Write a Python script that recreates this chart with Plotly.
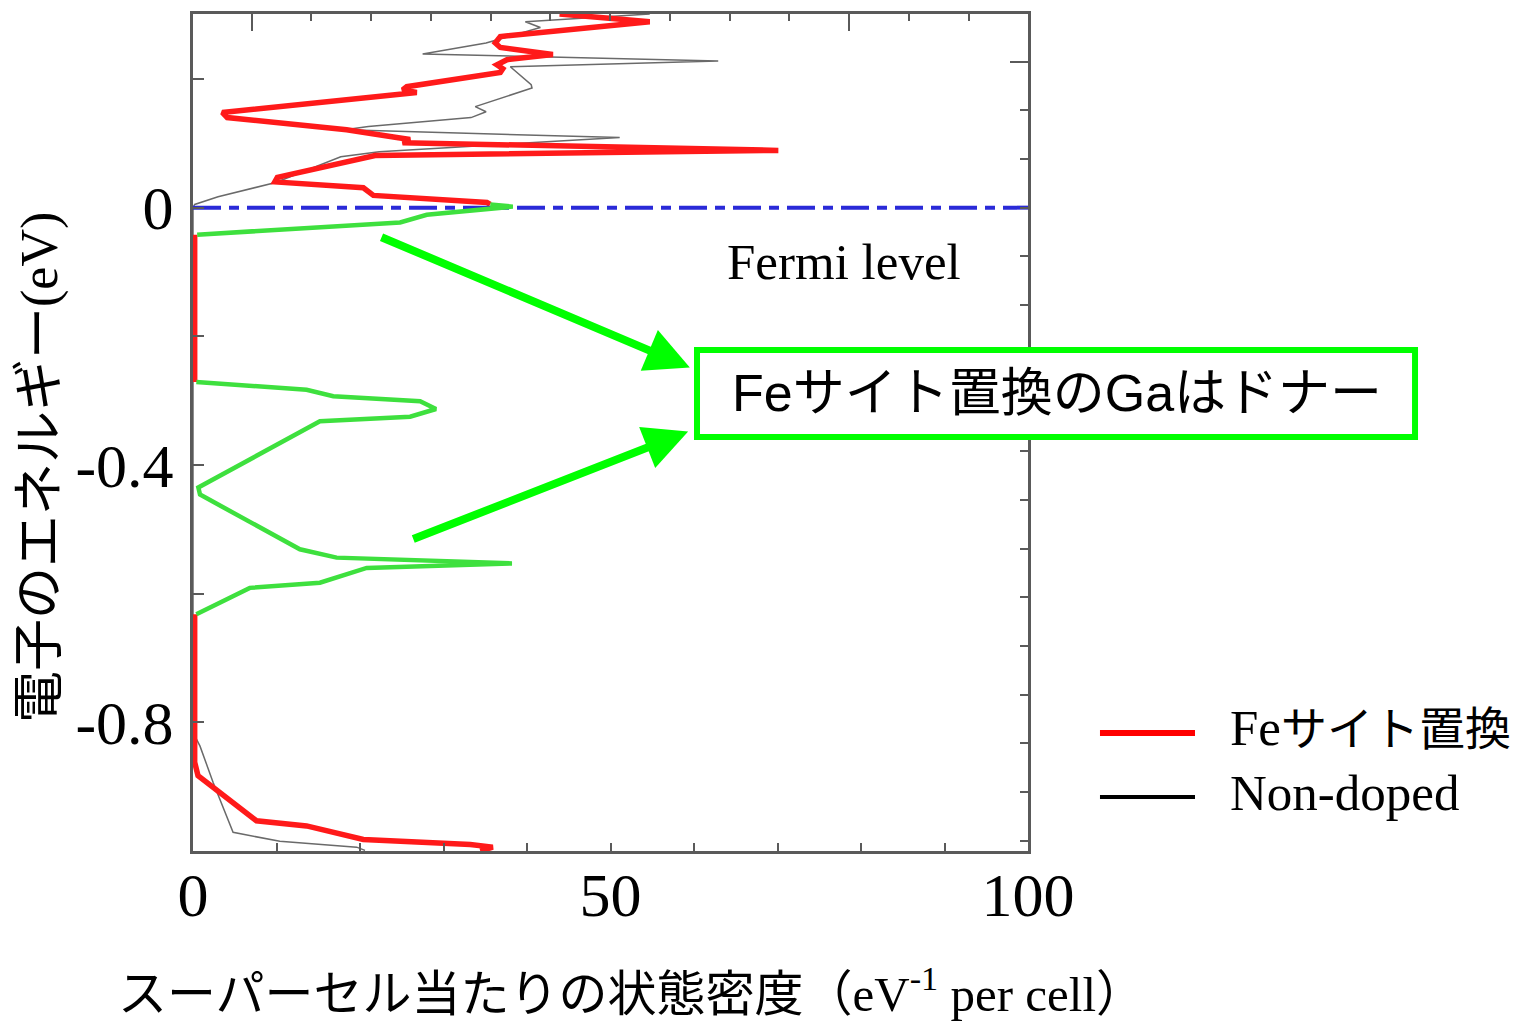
import plotly.graph_objects as go

# ---- data ----
# Fe-site substituted (red), upper part / on-axis part / lower part separated by None
red_dos = [43.9, 54.7, 36.8, 36.2, 36.8, 43.1, 37.6, 36.4, 37.1, 36.8, 25.6, 25.1, 26.8,
           3.5, 4.1, 18.4, 24.4, 26.0, 25.1, 70.1, 21.8, 10.1, 9.8, 20.4, 21.6, 35.2, 35.6,
           None,
           0.2, 0.2,
           None,
           0.2, 0.2, 0.6, 2.4, 7.6, 13.6, 20.4, 33.2, 35.9, 34.4]
red_energy = [0.301, 0.289, 0.266, 0.256, 0.249, 0.238, 0.230, 0.222, 0.216, 0.210, 0.188, 0.183, 0.179,
              0.148, 0.140, 0.121, 0.109, 0.106, 0.101, 0.089, 0.081, 0.047, 0.040, 0.031, 0.019, 0.008, 0.005,
              None,
              -0.042, -0.271,
              None,
              -0.632, -0.862, -0.883, -0.901, -0.953, -0.961, -0.982, -0.990, -0.994, -1.0]

# Ga donor states (green)
green_dos = [35.6, 38.3, 28.0, 24.8, 0.5,
             None,
             0.4, 13.6, 16.8, 27.2, 29.1, 26.0, 15.2, 6.4, 0.64, 0.84, 6.4, 12.8, 17.2, 38.2,
             20.8, 15.2, 6.8, 0.4]
green_energy = [0.005, 0.0016, -0.011, -0.023, -0.042,
                None,
                -0.271, -0.283, -0.293, -0.301, -0.313, -0.325, -0.332, -0.394, -0.435, -0.446,
                -0.485, -0.531, -0.544, -0.553, -0.560, -0.583, -0.591, -0.632]

# Non-doped (black)
black_dos = [54.7, 39.8, 41.6, 36.5, 35.1, 27.5, 62.9, 38.0, 40.5, 40.6, 33.8, 35.1, 33.3, 21.0,
             18.2, 51.1, 30.5, 22.3, 17.7, 9.9, 3.0, 0.2, 0.0, 0.0, 0.84, 2.4, 4.8, 10.4, 19.6, 20.6]
black_energy = [0.301, 0.289, 0.280, 0.261, 0.256, 0.239, 0.228, 0.219, 0.191, 0.186, 0.157, 0.149,
                0.140, 0.126, 0.121, 0.109, 0.093, 0.087, 0.079, 0.039, 0.017, 0.005, 0.0, -0.8155,
                -0.837, -0.893, -0.971, -0.985, -0.994, -0.999]

fermi_dos = [0, 100]
fermi_energy = [0, 0]

y_tickvals = [0.2, 0.0, -0.2, -0.4, -0.6, -0.8]
y_ticktext = ["", "0", "", "-0.4", "", "-0.8"]
x_tickvals = [0, 10, 20, 30, 40, 50, 60, 70, 80, 90, 100]
x_ticktext = ["0", "", "", "", "", "50", "", "", "", "", "100"]

SERIF = "Liberation Serif, 'Noto Sans CJK JP', serif"
SANS = "Liberation Sans, 'Noto Sans CJK JP', sans-serif"
AXC = "#5a5a5a"

fig = go.Figure()
fig.add_trace(go.Scatter(x=black_dos, y=black_energy, mode="lines",
                         line=dict(color="#6a6a6a", width=1.5), name="Non-doped"))
fig.add_trace(go.Scatter(x=red_dos, y=red_energy, mode="lines",
                         line=dict(color="#ff1a1a", width=5.5), name="Feサイト置換", connectgaps=False))
fig.add_trace(go.Scatter(x=fermi_dos, y=fermi_energy, mode="lines",
                         line=dict(color="#2a2ad8", width=4, dash="28px,8px,10px,8px"), name="Fermi"))
fig.add_trace(go.Scatter(x=green_dos, y=green_energy, mode="lines",
                         line=dict(color="#3ee03e", width=4.5), name="Ga", connectgaps=False))
# invisible trace to activate the secondary (top/right) axes for extra tick sets
fig.add_trace(go.Scatter(x=[None], y=[None], xaxis="x2", yaxis="y2", showlegend=False,
                         hoverinfo="skip"))

fig.update_layout(
    width=1523, height=1023,
    margin=dict(l=193, r=495, t=14, b=172),
    paper_bgcolor="white", plot_bgcolor="white",
    showlegend=False,
    xaxis=dict(range=[0, 100], showgrid=False, zeroline=False,
               showline=True, linecolor=AXC, linewidth=3, mirror=True,
               ticks="inside", ticklen=8, tickwidth=2, tickcolor=AXC,
               tickmode="array", tickvals=x_tickvals, ticktext=x_ticktext,
               tickfont=dict(family=SERIF, size=62, color="black"),
               ticklabelstandoff=-12),
    yaxis=dict(range=[-1.0, 0.301], showgrid=False, zeroline=False,
               showline=True, linecolor=AXC, linewidth=3, mirror=True,
               ticks="inside", ticklen=11, tickwidth=2, tickcolor=AXC,
               tickmode="array", tickvals=y_tickvals, ticktext=y_ticktext,
               tickfont=dict(family=SERIF, size=62, color="black"),
               ticklabelstandoff=4),
    xaxis2=dict(overlaying="x", side="top", range=[0, 100], showgrid=False, zeroline=False,
                showline=False, ticks="inside", ticklen=17, tickwidth=2, tickcolor=AXC,
                tickmode="array", tickvals=[7.03, 78.59], showticklabels=False,
                minor=dict(tickmode="linear", tick0=7.03, dtick=7.156, ticks="inside",
                           ticklen=7, tickwidth=2, tickcolor=AXC, showgrid=False)),
    yaxis2=dict(overlaying="y", side="right", range=[-1.0, 0.301], showgrid=False, zeroline=False,
                showline=False, ticks="inside", ticklen=18, tickwidth=2, tickcolor=AXC,
                tickmode="array", tickvals=[0.227], showticklabels=False,
                minor=dict(tickmode="linear", tick0=0.227, dtick=0.0757, ticks="inside",
                           ticklen=8, tickwidth=2, tickcolor=AXC, showgrid=False)),
)

# box with the donor message
fig.add_shape(type="rect", xref="paper", yref="paper",
              x0=0.6036, x1=1.4635, y0=0.4946, y1=0.5986,
              line=dict(color="#00ff00", width=6), fillcolor="white", layer="above")

annotations = [
    dict(text="Feサイト置換のGaはドナー", xref="paper", yref="paper", x=1.0347, y=0.547,
         showarrow=False, font=dict(family=SANS, size=52, color="black"),
         xanchor="center", yanchor="middle"),
    dict(text="Fermi level", xref="x", yref="y", x=63.7, y=-0.084, showarrow=False,
         font=dict(family=SERIF, size=51, color="black"), xanchor="left", yanchor="middle"),
    # arrows
    dict(text="", x=59.5, y=-0.2485, ax=22.4, ay=-0.045, xref="x", yref="y",
         axref="x", ayref="y", showarrow=True, arrowhead=2, arrowsize=1.1,
         arrowwidth=8, arrowcolor="#00ff00"),
    dict(text="", x=59.3, y=-0.348, ax=26.2, ay=-0.516, xref="x", yref="y",
         axref="x", ayref="y", showarrow=True, arrowhead=2, arrowsize=1.1,
         arrowwidth=8, arrowcolor="#00ff00"),
    # axis titles
    dict(text="電子のエネルギー(eV)", xref="paper", yref="paper", x=-0.1832, y=0.4576,
         showarrow=False, textangle=-90, font=dict(family=SERIF, size=52, color="black"),
         xanchor="center", yanchor="middle"),
    dict(text="スーパーセル当たりの状態密度（eV<sup>-1</sup> per cell）", xref="paper", yref="paper",
         x=0.525, y=-0.167, showarrow=False, font=dict(family=SERIF, size=49, color="black"),
         xanchor="center", yanchor="middle"),
    # legend texts
    dict(text="Fe<span style='font-size:46px'>サイト置換</span>", xref="paper", yref="paper",
         x=1.2395, y=0.147, showarrow=False,
         font=dict(family=SERIF, size=51, color="black"), xanchor="left", yanchor="middle"),
    dict(text="Non-doped", xref="paper", yref="paper", x=1.2395, y=0.0693, showarrow=False,
         font=dict(family=SERIF, size=51, color="black"), xanchor="left", yanchor="middle"),
]
for a in annotations:
    fig.add_annotation(**a)

# legend sample lines
fig.add_shape(type="line", xref="paper", yref="paper", x0=1.0862, x1=1.2, y0=0.141, y1=0.141,
              line=dict(color="#ff0000", width=6))
fig.add_shape(type="line", xref="paper", yref="paper", x0=1.0862, x1=1.2, y0=0.0645, y1=0.0645,
              line=dict(color="#000000", width=4))

fig.write_html("out.html", config={"displayModeBar": False},
               post_script="document.body.style.margin='0';document.body.style.overflow='hidden';")
